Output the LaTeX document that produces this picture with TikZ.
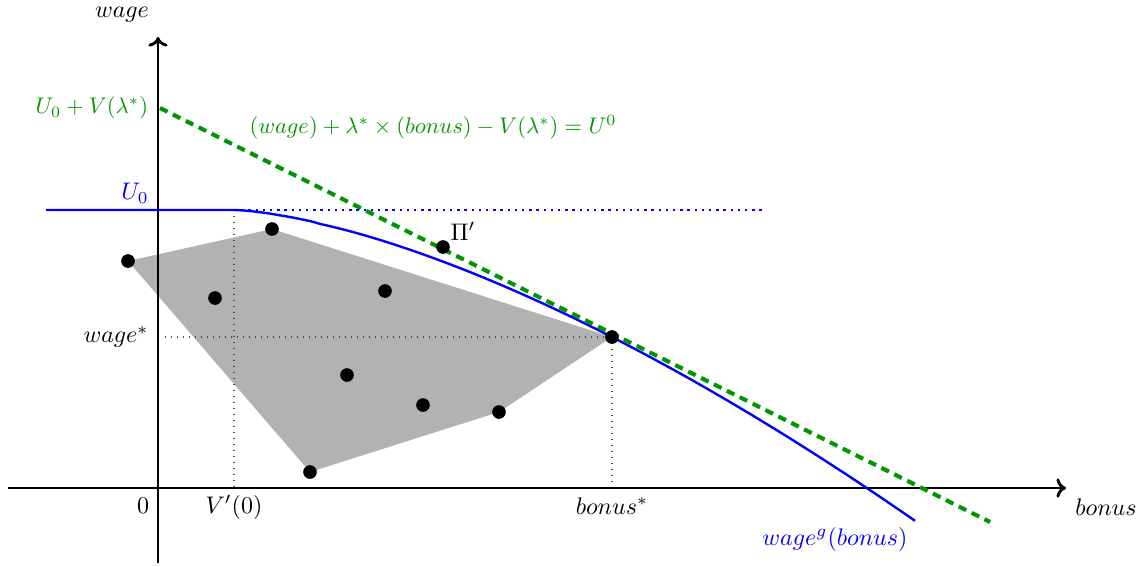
\documentclass[tikz,border=0pt]{standalone}
\usetikzlibrary{arrows.meta}
\definecolor{dgreen}{RGB}{0,150,0}
\tikzset{
  axis/.style={line width=1.2pt,-{To[length=4pt,width=8pt]}},
  bcurve/.style={blue,line width=1pt},
  gdash/.style={dgreen,line width=1.7pt,dash pattern=on 3.5pt off 2.5pt},
  guide/.style={black!70,dotted,line width=0.5pt},
  dot/.style={circle,fill=black,inner sep=0pt,minimum size=5.7pt},
  poly/.style={fill=black!30,draw=none},
  glabel/.style={dgreen,scale=0.94},
}
\begin{document}
\begin{tikzpicture}[x=0.01465cm,y=-0.01465cm]
\useasboundingbox (0,0) rectangle (1145,566);
% polygon
\fill[poly] (128,261) -- (272,229) -- (612,337) -- (499,412) -- (310,472) -- cycle;
% guides
\coordinate (g1) at (165,337);
\coordinate (g2) at (234,210);
\coordinate (g3) at (234,486);
\coordinate (g4) at (612,486);
\draw[guide] (g1) -- (612,337);
\draw[guide] (g2) -- (g3);
\draw[guide] (612,337) -- (g4);
% axes
\coordinate (xs) at (8,488);
\coordinate (xe) at (1066,488);
\coordinate (ys) at (158,563);
\coordinate (ye) at (158,37);
\draw[axis] (xs) -- (xe);
\draw[axis] (ys) -- (ye);
% blue curve
\coordinate (b0) at (46,210);
\coordinate (b1) at (234,210);
\coordinate (b2) at (762,210);
\draw[blue,line width=1pt,dotted] (b1) -- (b2);
\draw[bcurve] (b0) -- (b1) -- plot[domain=0.5:681,samples=80] ({234+\x},{210+310.8*exp(1.52*ln(\x/681))});
% green tangent
\coordinate (t0) at (160,108);
\coordinate (t1) at (990,522);
\draw[gdash] (t0) -- (t1);
% dots
\node[dot] (p1) at (128,261) {};
\node[dot] (p2) at (272,229) {};
\node[dot] (p3) at (215,298) {};
\node[dot] (p4) at (385,291) {};
\node[dot] (p5) at (443,247) {};
\node[dot] (p6) at (347,375) {};
\node[dot] (p7) at (423,405) {};
\node[dot] (p8) at (499,412) {};
\node[dot] (p9) at (310,472) {};
\node[dot] (p10) at (612,337) {};
% labels
\node (lwage) at (122,15) {$wage$};
\node (lbonus) at (1106,507) {$bonus$};
\node (lzero) at (143,506) {$0$};
\node (lvp) at (234,507) {$V'(0)$};
\node (lbs) at (612,506) {$bonus^{*}$};
\node[anchor=east] (lws) at (157,337) {$wage^{*}$};
\node[blue] (lu0) at (135,193) {$U_0$};
\node (lpi) at (463,231) {$\Pi'$};
\node[glabel,anchor=east] (lg) at (156,108) {$U_0+V(\lambda^{*})$};
\node[glabel] (leq) at (433,127) {$(wage)+\lambda^{*}\times(bonus)-V(\lambda^{*})=U^{0}$};
\node[blue] (lwg) at (835,539) {$wage^{g}(bonus)$};
\end{tikzpicture}
\end{document}
